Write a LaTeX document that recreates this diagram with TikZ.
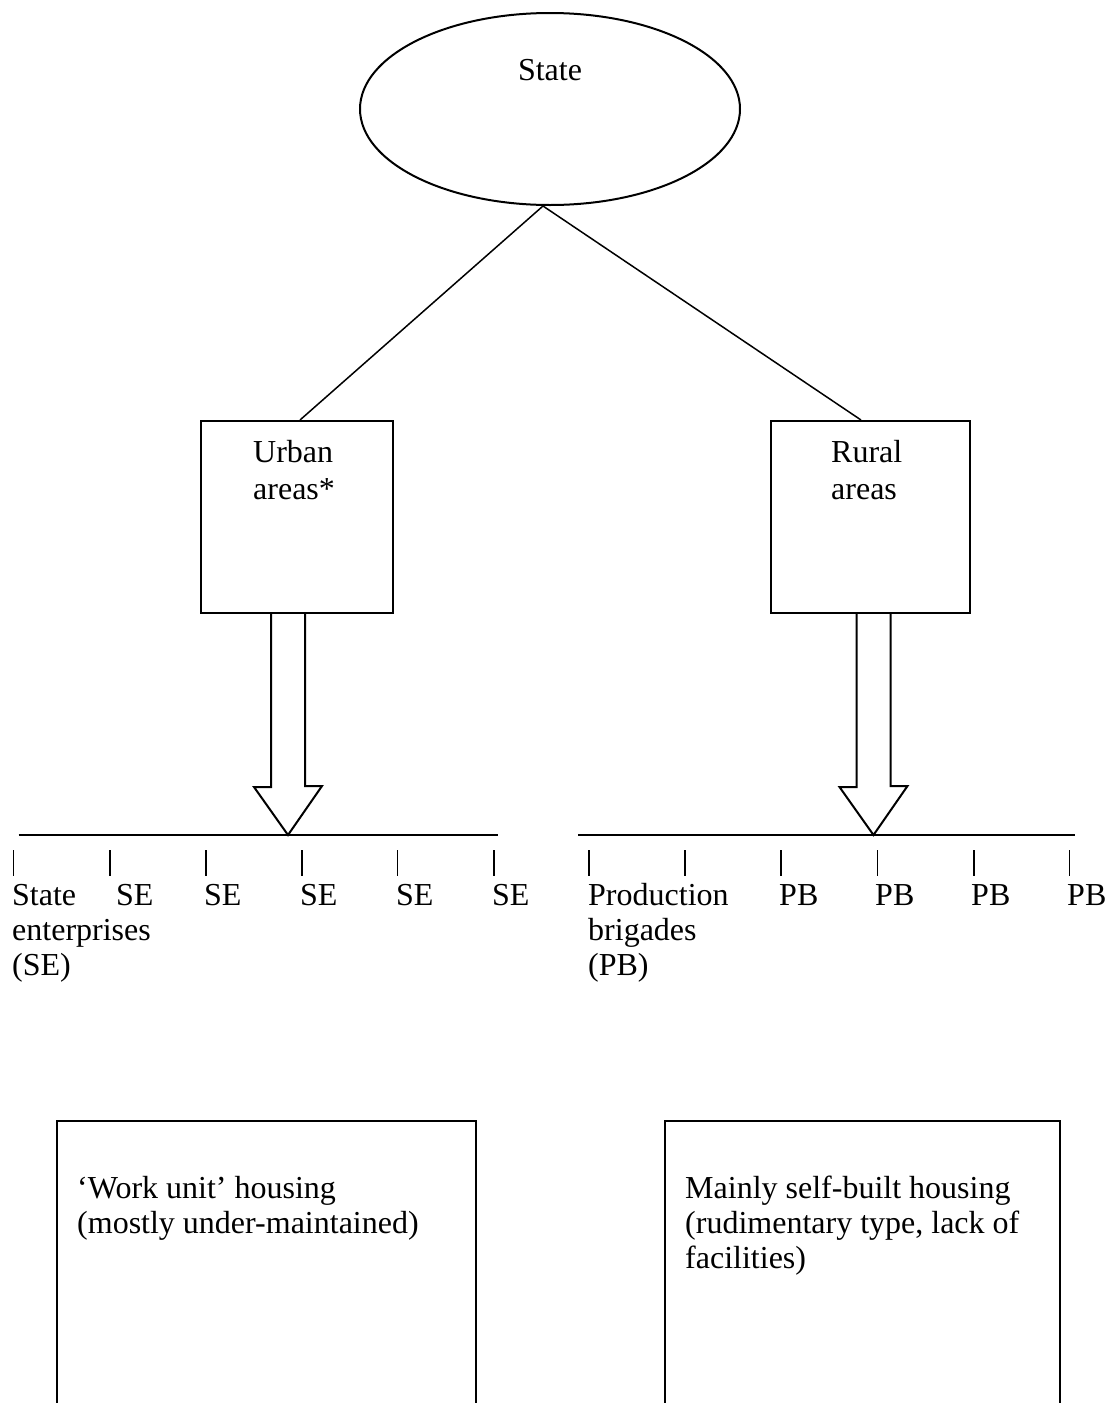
\documentclass[tikz,border=0pt]{standalone}
\usepackage{fontspec}
\setmainfont{Liberation Serif}
\usetikzlibrary{shapes.geometric,calc}
\newcommand\stkL[2][35pt]{\vtop{\baselineskip=#1\lineskiplimit=-100pt\lineskip=0pt\halign{##\hfil\cr#2\crcr}}}
\tikzset{
 txt/.style={inner sep=0pt, font=\fontsize{32}{35}\selectfont},
 shapebox/.style={draw, line width=2pt, inner sep=0pt},
 link/.style={line width=1.5pt},
 hollow/.style={draw, line width=2pt, line join=miter},
 rulestyle/.style={line width=1.6pt},
 tickstyle/.style={line width=1.5pt},
}
\begin{document}
\begin{tikzpicture}[x=1pt,y=-1pt]
\useasboundingbox (0,0) rectangle (1109,1403);
\clip (0,0) rectangle (1109,1403);
% State ellipse
\node[shapebox, ellipse, minimum width=380, minimum height=192, txt, text height=22pt, text depth=80pt] (state) at (550,109) {State};
% area boxes
\node[shapebox, minimum width=192, minimum height=192] (urban) at (297,517) {};
\node[txt, anchor=base west] (urbantxt) at (253,462) {\stkL[37pt]{Urban\cr areas*}};
\node[shapebox, minimum width=199, minimum height=192] (rural) at (870.5,517) {};
\node[txt, anchor=base west] (ruraltxt) at (831,462) {\stkL[37pt]{Rural\cr areas}};
% links
\draw[link] ([xshift=-7pt]state.south) -- ([xshift=3pt]urban.north);
\draw[link] ([xshift=-7pt]state.south) -- ([xshift=-9.5pt]rural.north);
% rules and tips
\coordinate (tipL) at (288,835);
\coordinate (tipR) at (873.5,835);
\coordinate (ruleLa) at (18.6,835);
\coordinate (ruleLb) at (498,835);
\coordinate (ruleRa) at (578,835);
\coordinate (ruleRb) at (1075,835);
\draw[rulestyle] (ruleLa) -- (ruleLb);
\draw[rulestyle] (ruleRa) -- (ruleRb);
% hollow arrows
\draw[hollow] ($(tipL |- urban.south)+(-17,0)$) -- ++(0,173) -- ++(-17,0) -- (tipL) -- ++(34,-49) -- ++(-17,0) -- ($(tipL |- urban.south)+(17,0)$);
\draw[hollow] ($(tipR |- rural.south)+(-17,0)$) -- ++(0,173) -- ++(-17,0) -- (tipR) -- ++(34,-49) -- ++(-17,0) -- ($(tipR |- rural.south)+(17,0)$);
% ticks
\foreach \x in {13.6,110,206,302,397.5,494,589,685,781,877.6,974,1069.5}
  \draw[tickstyle] (\x,850) -- (\x,876);
% row labels
\node[txt, anchor=base west] (se0) at (12,905) {\stkL{State\cr enterprises\cr (SE)}};
\foreach \x/\n in {116/1,204/2,300/3,396/4,492/5}
  \node[txt, anchor=base west] (se\n) at (\x,905) {SE};
\node[txt, anchor=base west] (pb0) at (588,905) {\stkL{Production\cr brigades\cr (PB)}};
\foreach \x/\n in {779/1,875/2,971/3,1067/4}
  \node[txt, anchor=base west] (pb\n) at (\x,905) {PB};
% housing boxes
\node[shapebox, anchor=north west, minimum width=419, minimum height=340] (workbox) at (56,1120) {};
\node[txt, anchor=base west] (worktxt) at (77,1198) {\stkL{‘Work unit’ housing\cr (mostly under-maintained)}};
\node[shapebox, anchor=north west, minimum width=395, minimum height=340] (selfbox) at (664,1120) {};
\node[txt, anchor=base west] (selftxt) at (685,1198) {\stkL{Mainly self-built housing\cr (rudimentary type, lack of\cr facilities)}};
\end{tikzpicture}
\end{document}
